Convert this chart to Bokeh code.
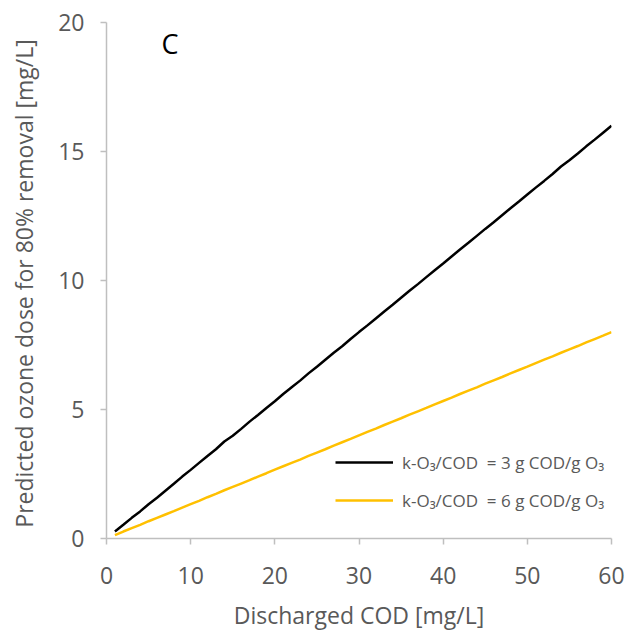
from bokeh.plotting import figure
from bokeh.models import FixedTicker, Range1d, Legend, LegendItem, Label
from bokeh.embed import file_html
from bokeh.resources import INLINE

# Data
discharged_cod = list(range(1, 61))
dose_k3 = [0.27, 0.53, 0.80, 1.05, 1.33, 1.58, 1.85, 2.12, 2.40, 2.66,
           2.93, 3.20, 3.46, 3.76, 3.98, 4.25, 4.53, 4.79, 5.06, 5.32,
           5.60, 5.86, 6.12, 6.40, 6.66, 6.93, 7.20, 7.45, 7.73, 8.00,
           8.26, 8.53, 8.80, 9.06, 9.33, 9.60, 9.86, 10.13, 10.40, 10.66,
           10.93, 11.20, 11.46, 11.73, 12.00, 12.26, 12.53, 12.80, 13.06, 13.33,
           13.60, 13.86, 14.13, 14.42, 14.66, 14.92, 15.20, 15.46, 15.73, 16.00]
dose_k6 = [0.13, 0.27, 0.40, 0.53, 0.67, 0.80, 0.93, 1.06, 1.20, 1.33,
           1.46, 1.60, 1.73, 1.87, 2.00, 2.13, 2.26, 2.40, 2.53, 2.67,
           2.80, 2.93, 3.06, 3.20, 3.33, 3.46, 3.60, 3.73, 3.86, 4.00,
           4.13, 4.26, 4.40, 4.53, 4.66, 4.80, 4.93, 5.06, 5.20, 5.33,
           5.46, 5.60, 5.73, 5.86, 6.00, 6.13, 6.26, 6.40, 6.53, 6.66,
           6.80, 6.93, 7.06, 7.20, 7.33, 7.46, 7.60, 7.73, 7.86, 8.00]
x_ticks = [0, 10, 20, 30, 40, 50, 60]
y_ticks = [0, 5, 10, 15, 20]
series_labels = ["k-O\u2083/COD  = 3 g COD/g O\u2083", "k-O\u2083/COD  = 6 g COD/g O\u2083"]

FONT = "Open Sans"
AXIS_COLOR = "#bfbfbf"
TEXT_COLOR = "#595959"

p = figure(width=633, height=634, output_backend="svg", toolbar_location=None,
           x_range=Range1d(0, 60), y_range=Range1d(0, 20),
           min_border_left=106, min_border_right=22, min_border_top=22, min_border_bottom=96)
p.outline_line_color = None
p.xgrid.visible = False
p.ygrid.visible = False

r1 = p.line(discharged_cod, dose_k3, line_color="black", line_width=2.5)
r2 = p.line(discharged_cod, dose_k6, line_color="#FFC000", line_width=2.5)

for ax, ticks in ((p.xaxis[0], x_ticks), (p.yaxis[0], y_ticks)):
    ax.ticker = FixedTicker(ticks=ticks)
    ax.minor_tick_line_color = None
    ax.axis_line_color = AXIS_COLOR
    ax.axis_line_width = 1.5
    ax.major_tick_line_color = AXIS_COLOR
    ax.major_tick_line_width = 1.5
    ax.major_tick_in = 0
    ax.major_tick_out = 6
    ax.major_label_text_font = FONT
    ax.major_label_text_font_size = "23px"
    ax.major_label_text_color = TEXT_COLOR
    ax.axis_label_text_font = FONT
    ax.axis_label_text_font_style = "normal"
    ax.axis_label_text_color = TEXT_COLOR
    ax.axis_label_text_font_size = "23px"

p.xaxis.axis_label = "Discharged COD [mg/L]"
p.yaxis.axis_label = "Predicted ozone  dose for 80% removal [mg/L]"
p.xaxis.major_label_standoff = 22
p.xaxis.axis_label_standoff = 12
p.yaxis.major_label_standoff = 16
p.yaxis.axis_label_standoff = 15

legend = Legend(items=[LegendItem(label=series_labels[0], renderers=[r1]),
                       LegendItem(label=series_labels[1], renderers=[r2])],
                location=(229, 26), orientation="vertical")
legend.border_line_color = None
legend.background_fill_alpha = 0
legend.padding = 0
legend.margin = 0
legend.spacing = 14
legend.glyph_width = 58
legend.glyph_height = 24
legend.label_height = 24
legend.label_standoff = 9
legend.label_text_font = FONT
legend.label_text_font_size = "17px"
legend.label_text_color = TEXT_COLOR
p.add_layout(legend, "center")

p.add_layout(Label(x=55, y=495, x_units="screen", y_units="screen",
                   text="C", text_font=FONT, text_font_size="27px",
                   text_color="black", text_baseline="middle"))

open("out.html", "w").write(file_html(p, INLINE))
